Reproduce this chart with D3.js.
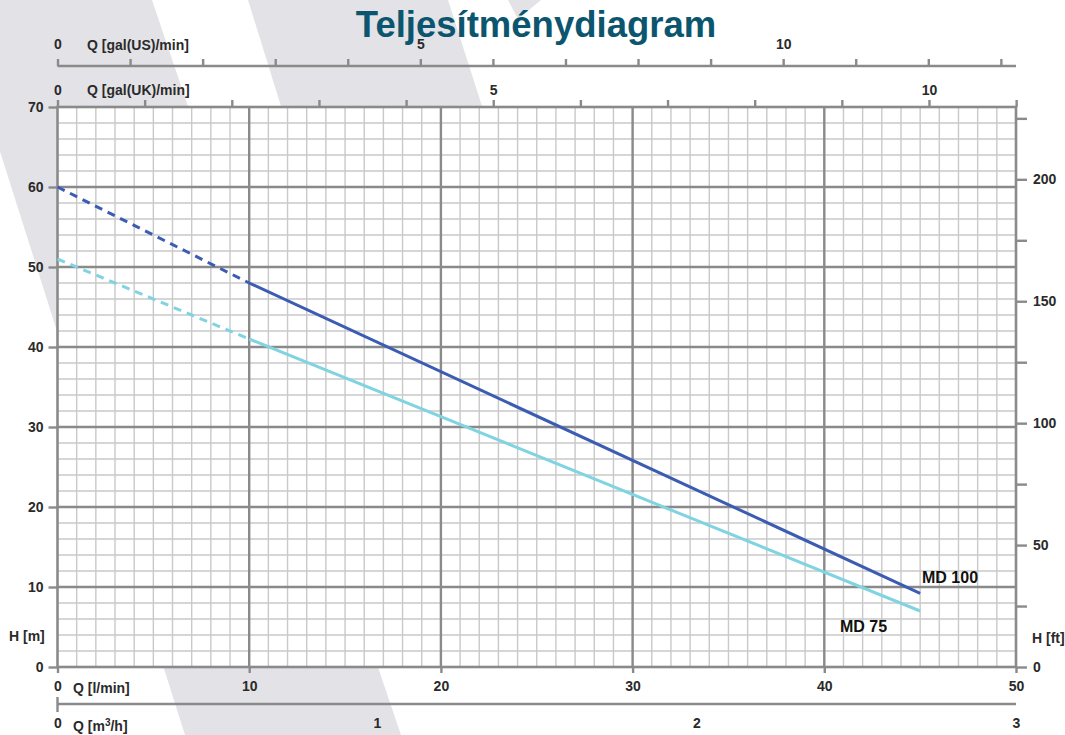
<!DOCTYPE html>
<html>
<head>
<meta charset="utf-8">
<script src="https://cdn.jsdelivr.net/npm/d3@7"></script>
<style>
  html,body{margin:0;padding:0;background:#fff;}
  svg{display:block;font-family:"Liberation Sans",Arial,sans-serif;}
</style>
</head>
<body>
<svg id="chart" width="1065" height="735"></svg>
<script>
// ---- data ----
const title = "Teljesítménydiagram";
const seriesNames = ["MD 100", "MD 75"];
const flowLmin = [0, 10, 45];            // Q [l/min] points
const headMD100 = [60, 48, 9.2];         // H [m]
const headMD75 = [51, 41, 7];            // H [m]
const lminTicks = [0, 10, 20, 30, 40, 50];
const hmTicks = [0, 10, 20, 30, 40, 50, 60, 70];
const ftTicks = [0, 25, 50, 75, 100, 125, 150, 175, 200, 225];
const ftLabels = [0, 50, 100, 150, 200];
const usTicks = [0,1,2,3,4,5,6,7,8,9,10,11,12,13];
const usLabels = [0, 5, 10];
const ukTicks = [0,1,2,3,4,5,6,7,8,9,10,11];
const ukLabels = [0, 5, 10];
const m3hLabels = [0, 1, 2, 3];

const LPG_US = 3.78541, LPG_UK = 4.54609, M_PER_FT = 0.3048, LMIN_PER_M3H = 1000/60;

const svg = d3.select("#chart");
const X0 = 57.5, X1 = 1016, Y0 = 667, Y1 = 107;
const x = d3.scaleLinear().domain([0, 50]).range([X0, X1]);
const y = d3.scaleLinear().domain([0, 70]).range([Y0, Y1]);
const xUS = d3.scaleLinear().domain([0, 50 / LPG_US]).range([X0, X1]);
const xUK = d3.scaleLinear().domain([0, 50 / LPG_UK]).range([X0, X1]);
const xM3 = d3.scaleLinear().domain([0, 50 / LMIN_PER_M3H]).range([X0, X1]);
const yFt = d3.scaleLinear().domain([0, 70 / M_PER_FT]).range([Y0, Y1]);

const TXT = "#2a2a2a", AX = "#8a8a8a", FS = 14;

// ---- background stripes ----
const bg = "#e3e2e6";
svg.append("polygon").attr("points", "-48,0 152,0 401,735 185,735").attr("fill", bg);
svg.append("polygon").attr("points", "248,0 448,0 576,400 372,400").attr("fill", bg);
svg.append("polygon").attr("points", "508,0 541,0 518,19").attr("fill", bg);

// ---- plot area ----
svg.append("rect").attr("x", X0).attr("y", Y1).attr("width", X1 - X0).attr("height", Y0 - Y1).attr("fill", "#fff");

const grid = svg.append("g");
grid.selectAll(".vmin").data(d3.range(1, 50)).join("line")
  .attr("x1", d => x(d)).attr("x2", d => x(d)).attr("y1", Y1).attr("y2", Y0)
  .attr("stroke", "#c9c9c9").attr("stroke-width", 1.4);
grid.selectAll(".hmin").data(d3.range(2, 70, 2)).join("line")
  .attr("x1", X0).attr("x2", X1).attr("y1", d => y(d)).attr("y2", d => y(d))
  .attr("stroke", "#c9c9c9").attr("stroke-width", 1.4);
grid.selectAll(".vmaj").data([10, 20, 30, 40]).join("line")
  .attr("x1", d => x(d)).attr("x2", d => x(d)).attr("y1", Y1).attr("y2", Y0)
  .attr("stroke", AX).attr("stroke-width", 2.4);
grid.selectAll(".hmaj").data([10, 20, 30, 40, 50, 60]).join("line")
  .attr("x1", X0).attr("x2", X1).attr("y1", d => y(d)).attr("y2", d => y(d))
  .attr("stroke", AX).attr("stroke-width", 2.4);
svg.append("rect").attr("x", X0).attr("y", Y1).attr("width", X1 - X0).attr("height", Y0 - Y1)
  .attr("fill", "none").attr("stroke", AX).attr("stroke-width", 2.6);

function styleAxis(g) {
  g.select(".domain").remove();
  g.selectAll(".tick line").attr("stroke", AX).attr("stroke-width", 2.4);
  g.selectAll(".tick text").attr("fill", TXT).attr("font-size", FS).attr("font-weight", "bold")
    .attr("font-family", "Liberation Sans, Arial, sans-serif");
}

svg.append("g").attr("transform", `translate(${X0},0)`)
  .call(d3.axisLeft(y).tickValues(hmTicks).tickSize(9).tickPadding(5).tickFormat(d3.format("d")))
  .call(styleAxis);
svg.append("g").attr("transform", `translate(${X1},0)`)
  .call(d3.axisRight(yFt).tickValues(ftTicks).tickSize(11).tickPadding(6)
    .tickFormat(d => ftLabels.includes(d) ? d : ""))
  .call(styleAxis);
svg.append("g").attr("transform", `translate(0,${Y0})`)
  .call(d3.axisBottom(x).tickValues(lminTicks).tickSize(6).tickPadding(8).tickFormat(d3.format("d")))
  .call(styleAxis);
svg.append("g").attr("transform", `translate(0,${Y1})`)
  .call(d3.axisTop(xUK).tickValues(ukTicks).tickSize(7).tickPadding(5)
    .tickFormat(d => ukLabels.includes(d) ? d : ""))
  .call(styleAxis);
svg.append("line").attr("x1", X0).attr("x2", X1).attr("y1", 66).attr("y2", 66).attr("stroke", AX).attr("stroke-width", 2.4);
svg.append("g").attr("transform", `translate(0,66)`)
  .call(d3.axisTop(xUS).tickValues(usTicks).tickSize(7).tickPadding(10)
    .tickFormat(d => usLabels.includes(d) ? d : ""))
  .call(styleAxis);
svg.append("line").attr("x1", X0).attr("x2", X1).attr("y1", 704).attr("y2", 704).attr("stroke", AX).attr("stroke-width", 2.4);
svg.append("line").attr("x1", X0).attr("x2", X0).attr("y1", 697).attr("y2", 712).attr("stroke", AX).attr("stroke-width", 2.4);
svg.append("g").attr("transform", `translate(0,704)`)
  .call(d3.axisBottom(xM3).tickValues(m3hLabels).tickSize(0).tickPadding(14).tickFormat(d3.format("d")))
  .call(styleAxis);

function label(t, xx, yy, anchor) {
  return svg.append("text").attr("x", xx).attr("y", yy).attr("text-anchor", anchor || "start")
    .attr("fill", TXT).attr("font-size", FS).attr("font-weight", "bold").text(t);
}
label("Q [gal(US)/min]", 87, 50);
label("Q [gal(UK)/min]", 87, 95);
label("Q [l/min]", 73, 693);
const m3 = label("Q [m", 73, 731);
m3.append("tspan").attr("font-size", 10).attr("dy", -5).text("3");
m3.append("tspan").attr("dy", 5).text("/h]");
label("H [m]", 9, 641);
label("H [ft]", 1032, 643);

// ---- curves ----
const line = d3.line().x(d => x(d[0])).y(d => y(d[1]));
const series = [
  { name: seriesNames[0], h: headMD100, color: "#3c5cb4", lx: 922, ly: 583 },
  { name: seriesNames[1], h: headMD75, color: "#80d4e2", lx: 840, ly: 632 }
];
series.forEach(s => {
  const pts = flowLmin.map((q, i) => [q, s.h[i]]);
  svg.append("path").attr("d", line(pts.slice(0, 2))).attr("fill", "none")
    .attr("stroke", s.color).attr("stroke-width", 3).attr("stroke-dasharray", "8,6");
  svg.append("path").attr("d", line(pts.slice(1))).attr("fill", "none")
    .attr("stroke", s.color).attr("stroke-width", 3);
  svg.append("text").attr("x", s.lx).attr("y", s.ly).attr("fill", "#111")
    .attr("font-size", 16).attr("font-weight", "bold").text(s.name);
});

svg.append("text").attr("x", 536).attr("y", 37).attr("text-anchor", "middle")
  .attr("fill", "#0b566e").attr("font-size", 36.5).attr("font-weight", "bold").text(title);
</script>
</body>
</html>
